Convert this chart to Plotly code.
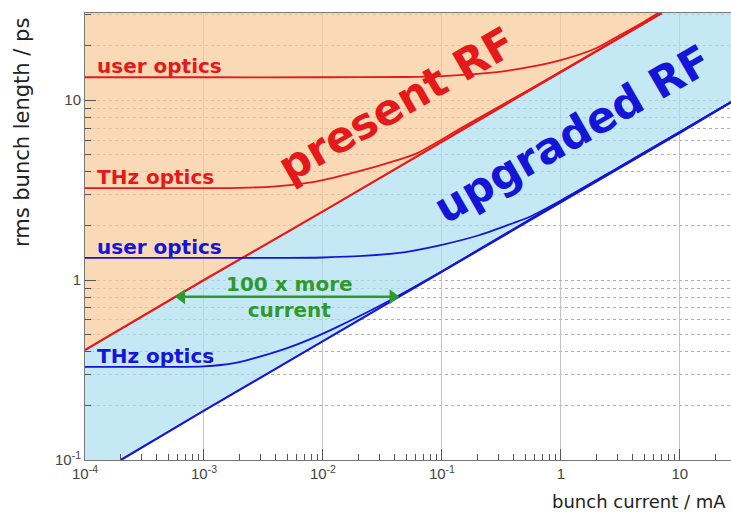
import math
import plotly.graph_objects as go

# ---------------- data ----------------
# axis extent (mA, ps)
x_min, x_max = 1e-4, 26.9
y_min, y_max = 0.1, 30.5

# threshold lines
present_rf_current = [1e-4, 1e-3, 1e-2, 1e-1, 1.0, 7.06]
present_rf_length = [0.408, 1.0, 2.41, 5.88, 14.3, 30.5]

upgraded_rf_current = [2e-4, 1e-3, 1e-2, 1e-1, 1.0, 10.0, 26.9]
upgraded_rf_length = [0.1, 0.188, 0.458, 1.11, 2.71, 6.59, 9.75]

# present RF, user optics
pu_current = [1e-4, 1e-3, 1e-2, 0.05, 0.1, 0.29, 0.55, 1.0, 2.0, 3.0, 5.0, 6.8]
pu_length = [13.4, 13.4, 13.4, 13.45, 13.6, 14.3, 15.3, 16.7, 19.5, 22.6, 27.3, 31.0]

# present RF, THz optics
pt_current = [1e-4, 1e-3, 0.002, 0.004, 0.0082, 0.0217, 0.042, 0.062, 0.15, 0.5, 2.0, 7.0]
pt_length = [3.24, 3.24, 3.25, 3.32, 3.50, 4.08, 4.64, 5.08, 7.08, 11.1, 18.8, 30.5]

# upgraded RF, user optics
uu_current = [1e-4, 1e-3, 0.01, 0.042, 0.096, 0.208, 0.395, 0.548, 1.0, 3.0, 10.0, 26.9]
uu_length = [1.33, 1.33, 1.335, 1.41, 1.56, 1.78, 2.07, 2.25, 2.77, 4.2, 6.67, 9.77]

# upgraded RF, THz optics
ut_current = [1e-4, 5e-4, 1.0e-3, 1.8e-3, 2.8e-3, 5.0e-3, 8.2e-3, 0.0131, 0.03, 0.1, 1.0, 10.0, 26.9]
ut_length = [0.329, 0.329, 0.331, 0.345, 0.372, 0.419, 0.476, 0.548, 0.72, 1.12, 2.75, 6.65, 9.75]

# "100 x more current" arrow
arrow_current = [6.5e-4, 0.0387]
arrow_length = [0.807, 0.807]

x_tick_vals = [1e-4, 1e-3, 1e-2, 1e-1, 1, 10]
x_tick_text = ["10<sup>-4</sup>", "10<sup>-3</sup>", "10<sup>-2</sup>", "10<sup>-1</sup>", "1", "10"]
y_tick_vals = [0.1, 1, 10]
y_tick_text = ["10<sup>-1</sup>", "1", "10"]
x_minor = [m * 10.0 ** e for e in range(-4, 2) for m in range(2, 10)]
y_minor = [m * 10.0 ** e for e in range(-1, 2) for m in range(2, 10)]

# ---------------- styles ----------------
RED = "#E41A1A"
BLUE = "#1515D8"
GREEN = "#2E9A2E"
PEACH = "rgba(248,201,152,0.70)"
LBLUE = "rgba(172,222,241,0.70)"
BOLD = "DejaVu Sans"

fig = go.Figure()

# orange area above the present-RF line
fig.add_trace(go.Scatter(
    x=present_rf_current + [x_min],
    y=present_rf_length + [y_max],
    fill="toself", fillcolor=PEACH, mode="none", hoverinfo="skip", showlegend=False))

# light-blue area between present and upgraded lines
fig.add_trace(go.Scatter(
    x=present_rf_current + [x_max] + upgraded_rf_current[::-1] + [x_min],
    y=present_rf_length + [y_max] + upgraded_rf_length[::-1] + [y_min],
    fill="toself", fillcolor=LBLUE, mode="none", hoverinfo="skip", showlegend=False))

def curve(x, y, color, width=1.8, spline=True):
    fig.add_trace(go.Scatter(
        x=x, y=y, mode="lines",
        line=dict(color=color, width=width, shape="spline" if spline else "linear", smoothing=0.8),
        hoverinfo="skip", showlegend=False))

curve(present_rf_current, present_rf_length, RED, 2.2, spline=False)
curve(upgraded_rf_current, upgraded_rf_length, BLUE, 2.2, spline=False)
curve(pu_current, pu_length, RED)
curve(pt_current, pt_length, RED)
curve(uu_current, uu_length, BLUE)
curve(ut_current, ut_length, BLUE)

# green double arrow
fig.add_trace(go.Scatter(
    x=arrow_current, y=arrow_length, mode="lines+markers",
    line=dict(color=GREEN, width=2.5),
    marker=dict(symbol=["triangle-left", "triangle-right"], size=13, color=GREEN),
    hoverinfo="skip", showlegend=False))

lg = math.log10

def label(text, x, y, color):
    fig.add_annotation(x=lg(x), y=lg(y), text=text, showarrow=False,
                       xanchor="left", yanchor="bottom", yshift=-3,
                       font=dict(family=BOLD, size=20, color=color, weight="bold"))

label("user optics", 1.22e-4, pu_length[0], RED)
label("THz optics", 1.22e-4, pt_length[0], RED)
label("user optics", 1.22e-4, uu_length[0], BLUE)
label("THz optics", 1.22e-4, ut_length[0], BLUE)

fig.add_annotation(x=lg(0.0419), y=lg(9.5), text="present RF", showarrow=False,
                   textangle=-30, xanchor="center", yanchor="middle",
                   font=dict(family=BOLD, size=43, color=RED, weight="bold"))
fig.add_annotation(x=lg(1.24), y=lg(6.47), text="upgraded RF", showarrow=False,
                   textangle=-30, xanchor="center", yanchor="middle",
                   font=dict(family=BOLD, size=43, color=BLUE, weight="bold"))
fig.add_annotation(x=lg(5.28e-3), y=lg(0.807), text="100 x more<br>current", showarrow=False,
                   xanchor="center", yanchor="middle",
                   font=dict(family=BOLD, size=20, color=GREEN, weight="bold"))

# axis titles
fig.add_annotation(xref="paper", yref="paper", x=0.996, y=-0.092, text="bunch current / mA",
                   showarrow=False, xanchor="right", yanchor="middle",
                   font=dict(family="DejaVu Sans", size=18, color="#222"))
fig.add_annotation(xref="paper", yref="paper", x=-0.0975, y=0.992, text="rms bunch length / ps",
                   showarrow=False, textangle=-90, xanchor="center", yanchor="top",
                   font=dict(family="DejaVu Sans", size=21, color="#222"))

fig.update_layout(
    width=731, height=518,
    margin=dict(l=85, r=0, t=13, b=58, autoexpand=False),
    paper_bgcolor="white", plot_bgcolor="white",
    showlegend=False,
    xaxis=dict(
        type="log", range=[lg(x_min), lg(x_max)], automargin=False,
        tickmode="array", tickvals=x_tick_vals, ticktext=x_tick_text,
        ticks="inside", ticklen=11, tickcolor="#555", tickwidth=1,
        showgrid=True, gridcolor="#C4C4C4", gridwidth=1,
        showline=True, linecolor="#777", linewidth=1, mirror=True,
        tickfont=dict(family="Liberation Sans", size=15, color="#444"),
        minor=dict(tickmode="array", tickvals=x_minor, ticks="inside", ticklen=6,
                   tickcolor="#555", showgrid=False),
        zeroline=False,
    ),
    yaxis=dict(
        type="log", range=[lg(y_min), lg(y_max)], automargin=False,
        tickmode="array", tickvals=y_tick_vals, ticktext=y_tick_text,
        ticks="inside", ticklen=11, tickcolor="#555", tickwidth=1,
        showgrid=True, gridcolor="#B0B0B0", gridwidth=1, griddash="dot",
        showline=True, linecolor="#777", linewidth=1,
        tickfont=dict(family="Liberation Sans", size=15, color="#444"),
        minor=dict(tickmode="array", tickvals=y_minor, ticks="inside", ticklen=6,
                   tickcolor="#555", showgrid=True, gridcolor="#B0B0B0", griddash="dot"),
        zeroline=False,
    ),
)

fig.write_html(
    "out.html",
    config={"displayModeBar": False},
    post_script="document.body.style.margin='0';document.body.style.padding='0';document.body.style.overflow='hidden';",
)
